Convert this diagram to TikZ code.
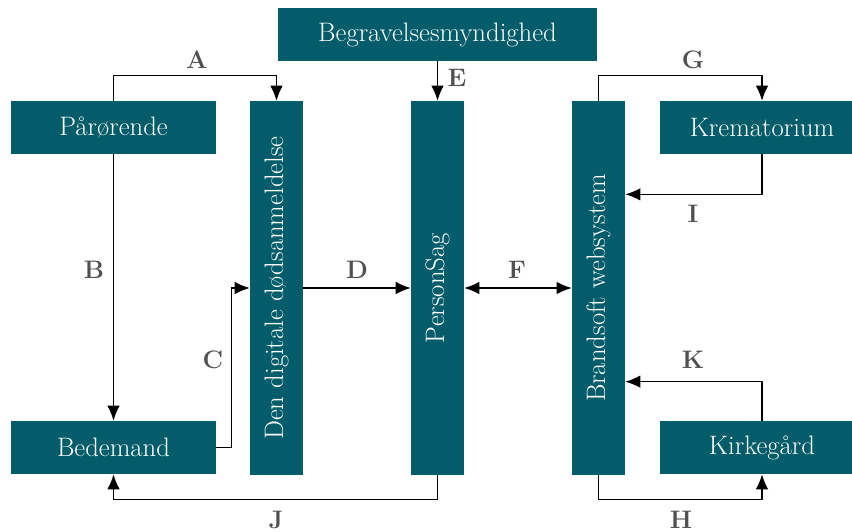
\documentclass[tikz,border=0pt]{standalone}
\usepackage{xcolor}
\usepackage{tikz}
\usetikzlibrary{arrows.meta, positioning, calc}

\definecolor{petrol}{RGB}{2,92,105}
\definecolor{lblgray}{RGB}{80,80,80}

\begin{document}
\begin{tikzpicture}[
    x=0.02cm, y=-0.02cm,
    box/.style={fill=petrol, text=white, minimum width=4.1cm, minimum height=1.06cm, inner sep=0pt, align=center, font=\fontsize{15.2}{18}\selectfont},
    tall/.style={fill=petrol, text=white, minimum width=1.06cm, minimum height=7.48cm, inner sep=0pt, font=\fontsize{15.2}{18}\selectfont},
    lbl/.style={text=lblgray, font=\Large\bfseries},
    arr/.style={-{Latex[length=3mm, width=2.5mm]}, line width=0.7pt}
]
    \clip (0,0) rectangle (852,531);
    % Boxes
    \node[box, minimum width=6.38cm] at (437.5,34.5) (myndighed) {Begravelsesmyndighed};
    \node[box] at (113.5,127.5) (parorende) {Pårørende};
    \node[box] at (113.5,447.5) (bedemand) {Bedemand};
    \node[box] at (762,127.5) (krematorium) {Krematorium};
    \node[box] at (762,447.5) (kirkegaard) {Kirkegård};
    \node[tall] at (276.5,288) (doedsanm) {\rotatebox{90}{Den digitale dødsanmeldelse}};
    \node[tall] at (437.5,288) (personsag) {\rotatebox{90}{PersonSag}};
    \node[tall] at (598.5,288) (brandsoft) {\rotatebox{90}{Brandsoft websystem}};
    % Connectors
    \draw[arr] (parorende.north) -- ++(0,-25) -| (doedsanm.north);
    \draw[arr] (parorende.south) -- (bedemand.north);
    \draw[arr] (bedemand.east) -- ++(15,0) |- (doedsanm.west);
    \draw[arr] (doedsanm.east) -- (personsag.west);
    \draw[arr] (myndighed.south) -- (personsag.north);
    \draw[arr, {Latex[length=3mm, width=2.5mm]}-{Latex[length=3mm, width=2.5mm]}] (personsag.east) -- (brandsoft.west);
    \draw[arr] (brandsoft.north) -- ++(0,-25) -| (krematorium.north);
    \draw[arr] (brandsoft.south) -- ++(0,24) -| (kirkegaard.south);
    \draw[arr] (krematorium.south) |- ($(brandsoft.north east)!0.25!(brandsoft.south east)$);
    \draw[arr] (personsag.south) -- ++(0,24) -| (bedemand.south);
    \draw[arr] (kirkegaard.north) |- ($(brandsoft.north east)!0.75!(brandsoft.south east)$);
    % Labels
    \node[lbl] at (197,60) (lA) {A};
    \node[lbl] at (94,270) (lB) {B};
    \node[lbl] at (213,360) (lC) {C};
    \node[lbl] at (357,270) (lD) {D};
    \node[lbl] at (457,78) (lE) {E};
    \node[lbl] at (517,270) (lF) {F};
    \node[lbl] at (693,60) (lG) {G};
    \node[lbl] at (681,520) (lH) {H};
    \node[lbl] at (693,214) (lI) {I};
    \node[lbl] at (276,520) (lJ) {J};
    \node[lbl] at (693,360) (lK) {K};
\end{tikzpicture}
\end{document}
